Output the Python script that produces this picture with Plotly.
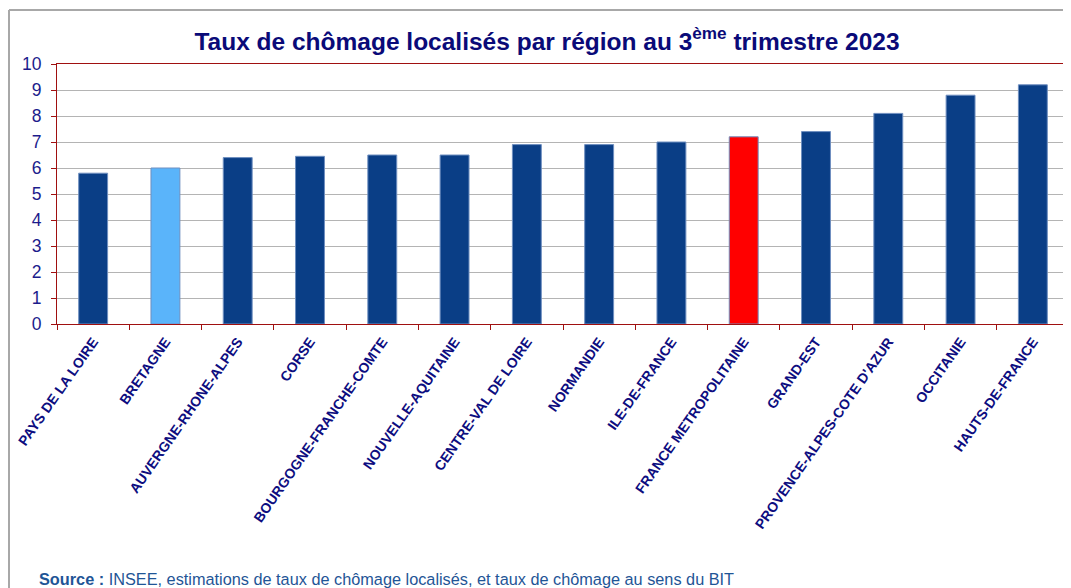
import plotly.graph_objects as go

regions = ["PAYS DE LA LOIRE", "BRETAGNE", "AUVERGNE-RHONE-ALPES", "CORSE",
           "BOURGOGNE-FRANCHE-COMTE", "NOUVELLE-AQUITAINE", "CENTRE-VAL DE LOIRE",
           "NORMANDIE", "ILE-DE-FRANCE", "FRANCE METROPOLITAINE", "GRAND-EST",
           "PROVENCE-ALPES-COTE D'AZUR", "OCCITANIE", "HAUTS-DE-FRANCE"]
taux = [5.8, 6.0, 6.4, 6.45, 6.5, 6.5, 6.9, 6.9, 7.0, 7.2, 7.4, 8.1, 8.8, 9.2]
y_ticks = list(range(0, 11))

DARK = "#0a3e86"
colors = []
for r in regions:
    if r == "BRETAGNE":
        colors.append("#5ab4fa")
    elif r == "FRANCE METROPOLITAINE":
        colors.append("#ff0000")
    else:
        colors.append(DARK)

OFF = 8  # page body margin
W, H = 1071 - OFF, 588 - OFF
L, R, T, B = 57 - OFF, 2, 64 - OFF, 264
pw, ph = W - L - R, H - T - B

def px_x(p):
    return (p - OFF - L) / pw

def px_y(p):
    return (H - B - (p - OFF)) / ph

fig = go.Figure(go.Bar(
    x=regions, y=taux, marker=dict(color=colors, line=dict(color="#6f8fc0", width=1)),
    width=0.4,
))

fig.update_layout(
    width=W, height=H,
    margin=dict(l=L, r=R, t=T, b=B),
    paper_bgcolor="white", plot_bgcolor="white",
    showlegend=False,
    font=dict(family="Liberation Sans, Arial", color="#14148a"),
    title=dict(
        text="<b>Taux de chômage localisés par région au 3<sup>ème</sup> trimestre 2023</b>",
        x=(547 - OFF) / W, xanchor="center", y=1 - (41 - OFF) / H, yanchor="middle",
        font=dict(size=24.5, color="#0a0a78", family="Liberation Sans, Arial"),
    ),
)

fig.update_yaxes(
    range=[0, 10], tickvals=y_ticks, ticktext=[str(v) for v in y_ticks],
    showgrid=True, gridcolor="#b4b4b4", gridwidth=1.3,
    showline=True, linecolor="#a01010", linewidth=1.2, mirror=True,
    ticks="outside", ticklen=5, tickcolor="#a01010", ticklabelstandoff=6,
    tickfont=dict(size=17.5, color="#1c1c8c"), zeroline=False,
)
fig.update_xaxes(
    showline=True, linecolor="#a01010", linewidth=1.2, mirror=True,
    ticks="outside", ticklen=5, tickcolor="#a01010", tickson="boundaries",
    tickangle=-55, tickfont=dict(size=14, color="#0d0d80", family="Liberation Sans, Arial"),
    tickprefix="<b>", ticksuffix="</b>", ticklabelstandoff=3,
)

# outer frame lines (grey)
fig.add_shape(type="line", xref="paper", yref="paper",
              x0=px_x(9), x1=px_x(9), y0=px_y(10), y1=px_y(600),
              line=dict(color="#a8a8a8", width=2))
fig.add_shape(type="line", xref="paper", yref="paper",
              x0=px_x(9), x1=px_x(1069), y0=px_y(10), y1=px_y(10),
              line=dict(color="#a8a8a8", width=2))

fig.add_annotation(
    xref="paper", yref="paper", x=px_x(37), y=px_y(579),
    xanchor="left", yanchor="middle", showarrow=False,
    text="<b>Source :</b> INSEE, estimations de taux de chômage localisés, et taux de chômage au sens du BIT",
    font=dict(size=16.3, color="#1f5596", family="Liberation Sans, Arial"),
)

fig.write_html("out.html")
